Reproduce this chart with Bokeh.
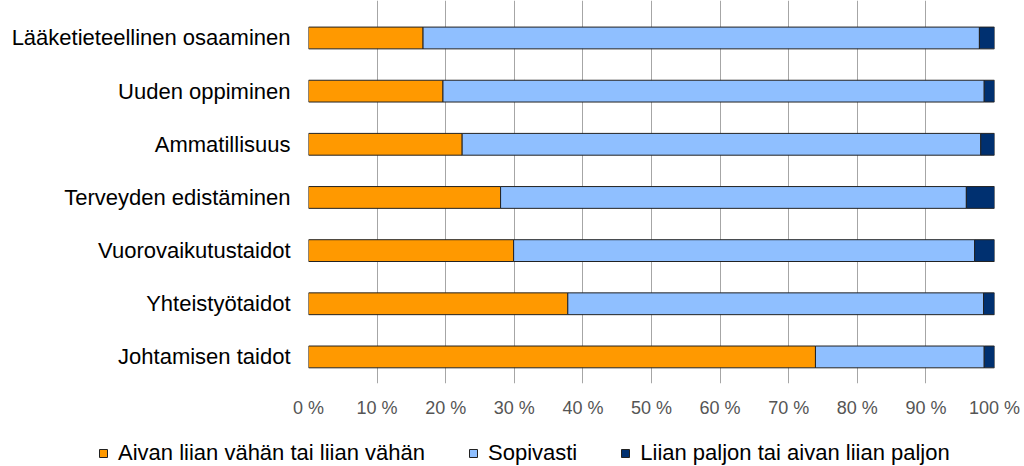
from bokeh.plotting import figure
from bokeh.layouts import column
from bokeh.models import ColumnDataSource, FixedTicker, Range1d, Legend, LegendItem
from bokeh.embed import file_html
from bokeh.resources import INLINE

categories = [
    "Lääketieteellinen osaaminen",
    "Uuden oppiminen",
    "Ammatillisuus",
    "Terveyden edistäminen",
    "Vuorovaikutustaidot",
    "Yhteistyötaidot",
    "Johtamisen taidot",
]
too_little = [16.7, 19.6, 22.4, 28.0, 29.9, 37.8, 73.9]
suitable = [81.1, 78.9, 75.6, 67.9, 67.2, 60.6, 24.6]
too_much = [2.2, 1.5, 2.0, 4.1, 2.9, 1.6, 1.5]
series_names = [
    "Aivan liian vähän tai liian vähän",
    "Sopivasti",
    "Liian paljon tai aivan liian paljon",
]
colors = ["#ff9900", "#8fbfff", "#003070"]
tick_values = [0, 10, 20, 30, 40, 50, 60, 70, 80, 90, 100]
tick_labels = ["0 %", "10 %", "20 %", "30 %", "40 %", "50 %",
               "60 %", "70 %", "80 %", "90 %", "100 %"]

n = len(categories)
ypos = [n - 1 - i for i in range(n)]

source = ColumnDataSource(dict(
    y=ypos, cat=categories,
    a=too_little, b=suitable, c=too_much,
))

p = figure(
    width=1024, height=428,
    output_backend="svg", toolbar_location=None,
    x_range=Range1d(0, 100), y_range=Range1d(-0.5, 6.705),
    min_border_left=308, min_border_right=30,
    min_border_top=0, min_border_bottom=45,
)
p.outline_line_color = None
p.background_fill_color = "white"

p.hbar_stack(["a", "b", "c"], y="y", height=0.41, source=source,
             fill_color=colors, line_color="#222222", line_width=1)

# x axis
p.xaxis.ticker = FixedTicker(ticks=tick_values)
p.xaxis.major_label_overrides = {v: l for v, l in zip(tick_values, tick_labels)}
p.xaxis.axis_line_color = None
p.xaxis.major_tick_line_color = None
p.xaxis.minor_tick_line_color = None
p.xaxis.major_tick_out = 0
p.xaxis.major_tick_in = 0
p.xaxis.major_label_text_font = "Liberation Sans"
p.xaxis.major_label_text_font_size = "18px"
p.xaxis.major_label_text_color = "#555555"
p.xaxis.major_label_standoff = 14

# y axis
p.yaxis.ticker = FixedTicker(ticks=ypos)
p.yaxis.major_label_overrides = {y: c for y, c in zip(ypos, categories)}
p.yaxis.axis_line_color = None
p.yaxis.major_tick_line_color = None
p.yaxis.minor_tick_line_color = None
p.yaxis.major_tick_out = 0
p.yaxis.major_tick_in = 0
p.yaxis.major_label_text_font = "Liberation Sans"
p.yaxis.major_label_text_font_size = "22px"
p.yaxis.major_label_text_color = "#000000"
p.yaxis.major_label_standoff = 18

p.xgrid.grid_line_color = "#a6a6a6"
p.xgrid.grid_line_width = 1
p.ygrid.grid_line_color = None

# legend figure (bars are out of view; only the legend is visible)
pl = figure(
    width=1024, height=38,
    output_backend="svg", toolbar_location=None,
    x_range=Range1d(0, 100), y_range=Range1d(100, 101),
    min_border=0,
)
if "frame_align" in pl.properties():
    pl.frame_align = False
if "frame_align" in p.properties():
    p.frame_align = False
pl.outline_line_color = None
pl.axis.visible = False
pl.grid.visible = False
lrs = pl.hbar_stack(["a", "b", "c"], y="y", height=0.41, source=source,
                    fill_color=colors, line_color="#222222", line_width=1)
items = [LegendItem(label=name, renderers=[r]) for name, r in zip(series_names, lrs)]

leg = Legend(items=items)
leg.orientation = "horizontal"
leg.location = (98, 0)
leg.glyph_width = 10
leg.glyph_height = 10
leg.label_standoff = 10
leg.spacing = 43
leg.padding = 0
leg.margin = 0
leg.border_line_color = None
leg.background_fill_alpha = 0
leg.label_text_font = "Liberation Sans"
leg.label_text_font_size = "22px"
leg.label_text_color = "#000000"
pl.add_layout(leg, "center")

layout = column(p, pl, spacing=0)
open("out.html", "w").write(file_html(layout, INLINE))
